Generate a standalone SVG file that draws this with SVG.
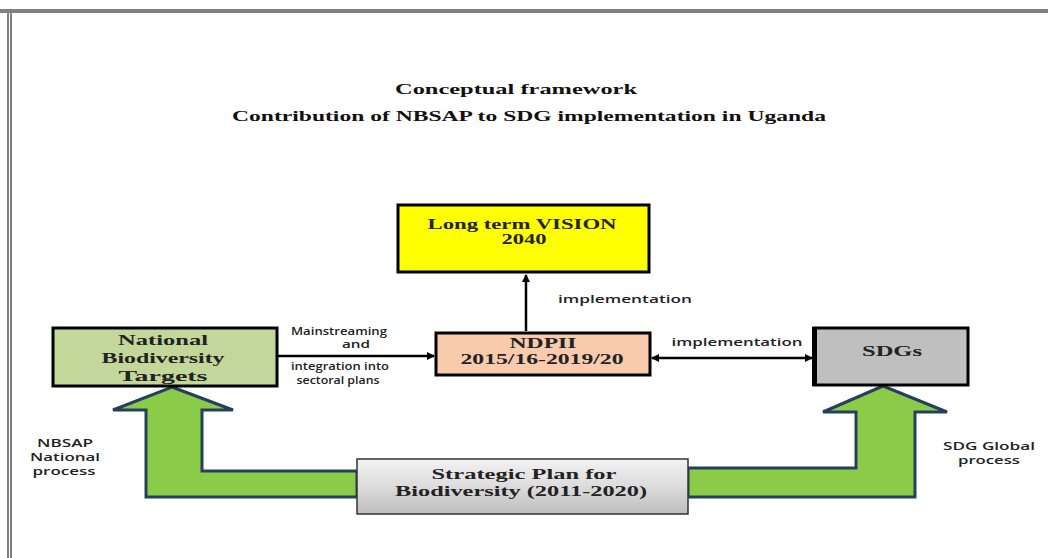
<svg xmlns="http://www.w3.org/2000/svg" width="1048" height="558" viewBox="0 0 1048 558">
<defs>
<style>
.title{font-family:"Liberation Serif",serif;font-weight:bold;font-size:15px;fill:#111;text-anchor:middle}
.box{font-family:"Liberation Serif",serif;font-weight:bold;font-size:15px;fill:#222;text-anchor:middle}
.lbl{font-family:"Open Sans","Liberation Sans",sans-serif;font-weight:600;font-size:11px;fill:#222;text-anchor:middle}
.node{stroke:#000;stroke-width:3}
.green{fill:#8CCB48;stroke:#24405E;stroke-width:3;stroke-linejoin:miter}
.conn{stroke:#000;stroke-width:2.5;fill:none}
</style>
<linearGradient id="grayg" x1="0" y1="0" x2="0" y2="1">
<stop offset="0" stop-color="#F2F2F2"/>
<stop offset="0.5" stop-color="#DCDCDC"/>
<stop offset="1" stop-color="#BDBDBD"/>
</linearGradient>
<marker id="ah" markerWidth="8" markerHeight="8" refX="7" refY="4" orient="auto" markerUnits="userSpaceOnUse">
<path d="M0,0 L8,4 L0,8 Z" fill="#000"/>
</marker>
<marker id="ahs" markerWidth="8" markerHeight="8" refX="1" refY="4" orient="auto" markerUnits="userSpaceOnUse">
<path d="M8,0 L0,4 L8,8 Z" fill="#000"/>
</marker>
</defs>
<rect width="1048" height="558" fill="#fff"/>
<g id="frame">
<rect x="0" y="9" width="1048" height="4" fill="#808080"/>
<rect x="7" y="11" width="2" height="547" fill="#808080"/>
<rect x="10" y="11" width="2" height="547" fill="#808080"/>
</g>
<g id="titles">
<text class="title" x="516" y="94" textLength="242" lengthAdjust="spacingAndGlyphs">Conceptual framework</text>
<text class="title" x="529" y="121" textLength="594" lengthAdjust="spacingAndGlyphs">Contribution of NBSAP to SDG implementation in Uganda</text>
</g>
<g id="green-arrows">
<path class="green" d="M172,387 L233,410 L202,410 L202,471 L357,471 L357,497 L146,497 L146,410 L113,410 Z"/>
<path class="green" d="M883,386 L947,412 L915,412 L915,497 L688,497 L688,468 L856,468 L856,412 L823,412 Z"/>
</g>
<g id="connectors">
<line class="conn" x1="278" y1="356" x2="434" y2="356" marker-end="url(#ah)"/>
<line class="conn" x1="526" y1="331" x2="526" y2="275" marker-end="url(#ah)"/>
<line class="conn" x1="652" y1="358" x2="812" y2="358" marker-start="url(#ahs)" marker-end="url(#ah)"/>
<text class="lbl" x="339" y="335" textLength="96" lengthAdjust="spacingAndGlyphs">Mainstreaming</text>
<text class="lbl" x="356" y="348" textLength="28" lengthAdjust="spacingAndGlyphs">and</text>
<text class="lbl" x="340" y="370" textLength="98" lengthAdjust="spacingAndGlyphs">integration into</text>
<text class="lbl" x="338" y="384" textLength="83" lengthAdjust="spacingAndGlyphs">sectoral plans</text>
<text class="lbl" x="625" y="303" textLength="134" lengthAdjust="spacingAndGlyphs">implementation</text>
<text class="lbl" x="737" y="346" textLength="131" lengthAdjust="spacingAndGlyphs">implementation</text>
</g>
<g id="vision">
<rect class="node" x="398" y="205" width="251" height="67" fill="#FFFF00"/>
<text class="box" x="522" y="229" textLength="189" lengthAdjust="spacingAndGlyphs">Long term VISION</text>
<text class="box" x="524" y="244" textLength="45" lengthAdjust="spacingAndGlyphs">2040</text>
</g>
<g id="nbt">
<rect class="node" x="53" y="328" width="224" height="58" fill="#C4D79B"/>
<text class="box" x="163" y="345" textLength="90" lengthAdjust="spacingAndGlyphs">National</text>
<text class="box" x="163" y="363" textLength="123" lengthAdjust="spacingAndGlyphs">Biodiversity</text>
<text class="box" x="163" y="381" textLength="89" lengthAdjust="spacingAndGlyphs">Targets</text>
</g>
<g id="ndpii">
<rect class="node" x="436" y="333" width="214" height="42" fill="#F8CBAD"/>
<text class="box" x="543" y="348" textLength="67" lengthAdjust="spacingAndGlyphs">NDPII</text>
<text class="box" x="542" y="364" textLength="163" lengthAdjust="spacingAndGlyphs">2015/16-2019/20</text>
</g>
<g id="sdgs">
<rect class="node" x="814" y="328" width="154" height="57" fill="#BFBFBF"/>
<rect x="812" y="327" width="5" height="59" fill="#000"/>
<text class="box" x="892" y="356" textLength="60" lengthAdjust="spacingAndGlyphs">SDGs</text>
</g>
<g id="nbsap-label">
<text class="lbl" x="65" y="447" textLength="56" lengthAdjust="spacingAndGlyphs">NBSAP</text>
<text class="lbl" x="65" y="461" textLength="70" lengthAdjust="spacingAndGlyphs">National</text>
<text class="lbl" x="64" y="475" textLength="63" lengthAdjust="spacingAndGlyphs">process</text>
</g>
<g id="sdg-label">
<text class="lbl" x="989" y="450" textLength="92" lengthAdjust="spacingAndGlyphs">SDG Global</text>
<text class="lbl" x="989" y="464" textLength="62" lengthAdjust="spacingAndGlyphs">process</text>
</g>
<g id="strategic">
<rect x="357" y="459" width="331" height="55" fill="url(#grayg)" stroke="#333" stroke-width="1.5"/>
<text class="box" x="524" y="479" textLength="185" lengthAdjust="spacingAndGlyphs">Strategic Plan for</text>
<text class="box" x="521" y="496" textLength="252" lengthAdjust="spacingAndGlyphs">Biodiversity (2011-2020)</text>
</g>
</svg>
